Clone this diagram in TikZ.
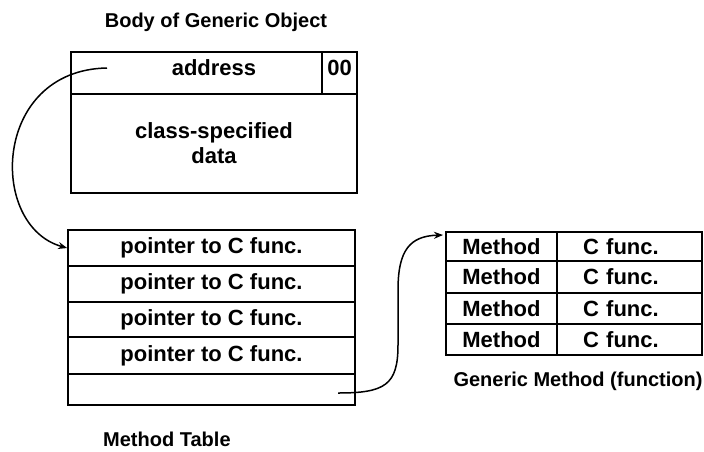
\documentclass[tikz,border=0pt]{standalone}
\usepackage{fontspec}
\setmainfont{Liberation Sans}
\usetikzlibrary{arrows.meta}
\begin{document}
\begin{tikzpicture}[x=1pt, y=-1pt,
  cell/.style={draw, line width=1.7pt, rectangle, inner sep=0pt,
    font=\fontsize{22}{25}\selectfont\bfseries},
  txt/.style={inner sep=0pt, font=\fontsize{22}{25}\selectfont\bfseries},
  caption/.style={inner sep=0pt, font=\fontsize{20}{24}\selectfont\bfseries},
  ccol/.style={cell, text width=93pt, align=left},
  link/.style={line width=1.5pt, -{Stealth[length=9pt, width=7pt]}}]
\useasboundingbox (0,0) rectangle (704,451);

% object body
\node[cell, minimum width=251pt, minimum height=42pt] (addr) at (196.5,73) {};
\node[cell, minimum width=35pt, minimum height=42pt] (tag) at (339.5,73) {};
\node[cell, minimum width=286pt, minimum height=99pt, align=center] (body) at (214,143.5)
  {class-specified\\data};
\node[txt] (addrtxt) at ([yshift=5pt]body.center |- addr.center) {address};
\node[txt] (tagtxt) at ([yshift=5pt]tag.center) {00};
\node[caption] (bodycap) at (216,22) {Body of Generic Object};

% method table
\node[cell, minimum width=287pt, minimum height=36pt] (mt1) at (211.5,248) {pointer to C func.};
\node[cell, minimum width=287pt, minimum height=36pt] (mt2) at (211.5,284) {pointer to C func.};
\node[cell, minimum width=287pt, minimum height=35pt] (mt3) at (211.5,319.5) {pointer to C func.};
\node[cell, minimum width=287pt, minimum height=37pt] (mt4) at (211.5,355.5) {pointer to C func.};
\node[cell, minimum width=287pt, minimum height=31pt] (mt5) at (211.5,389.5) {};
\node[caption, anchor=west] (mtcap) at (103,439) {Method Table};

% generic method
\node[cell, minimum width=111pt, minimum height=29pt] (m1) at (501.5,246.5) {Method};
\node[ccol, minimum width=145pt, minimum height=29pt] (f1) at (629.5,246.5) {C func.};
\node[cell, minimum width=111pt, minimum height=32pt] (m2) at (501.5,277) {Method};
\node[ccol, minimum width=145pt, minimum height=32pt] (f2) at (629.5,277) {C func.};
\node[cell, minimum width=111pt, minimum height=31pt] (m3) at (501.5,308.5) {Method};
\node[ccol, minimum width=145pt, minimum height=31pt] (f3) at (629.5,308.5) {C func.};
\node[cell, minimum width=111pt, minimum height=31pt] (m4) at (501.5,339.5) {Method};
\node[ccol, minimum width=145pt, minimum height=31pt] (f4) at (629.5,339.5) {C func.};
\node[caption] (gmcap) at (578,381) {Generic Method (function)};

% pointers
\coordinate (p1) at (107,68);
\draw[link] (p1) .. controls (-8,70) and (-12,226) .. (mt1.west);
\coordinate (p2) at (338,393);
\coordinate (tip2) at (443,235);
\draw[link] (p2) .. controls (385,393) and (398,385) .. (398,345)
  -- (398,290) .. controls (398,250) and (410,236) .. (tip2);
\end{tikzpicture}
\end{document}
